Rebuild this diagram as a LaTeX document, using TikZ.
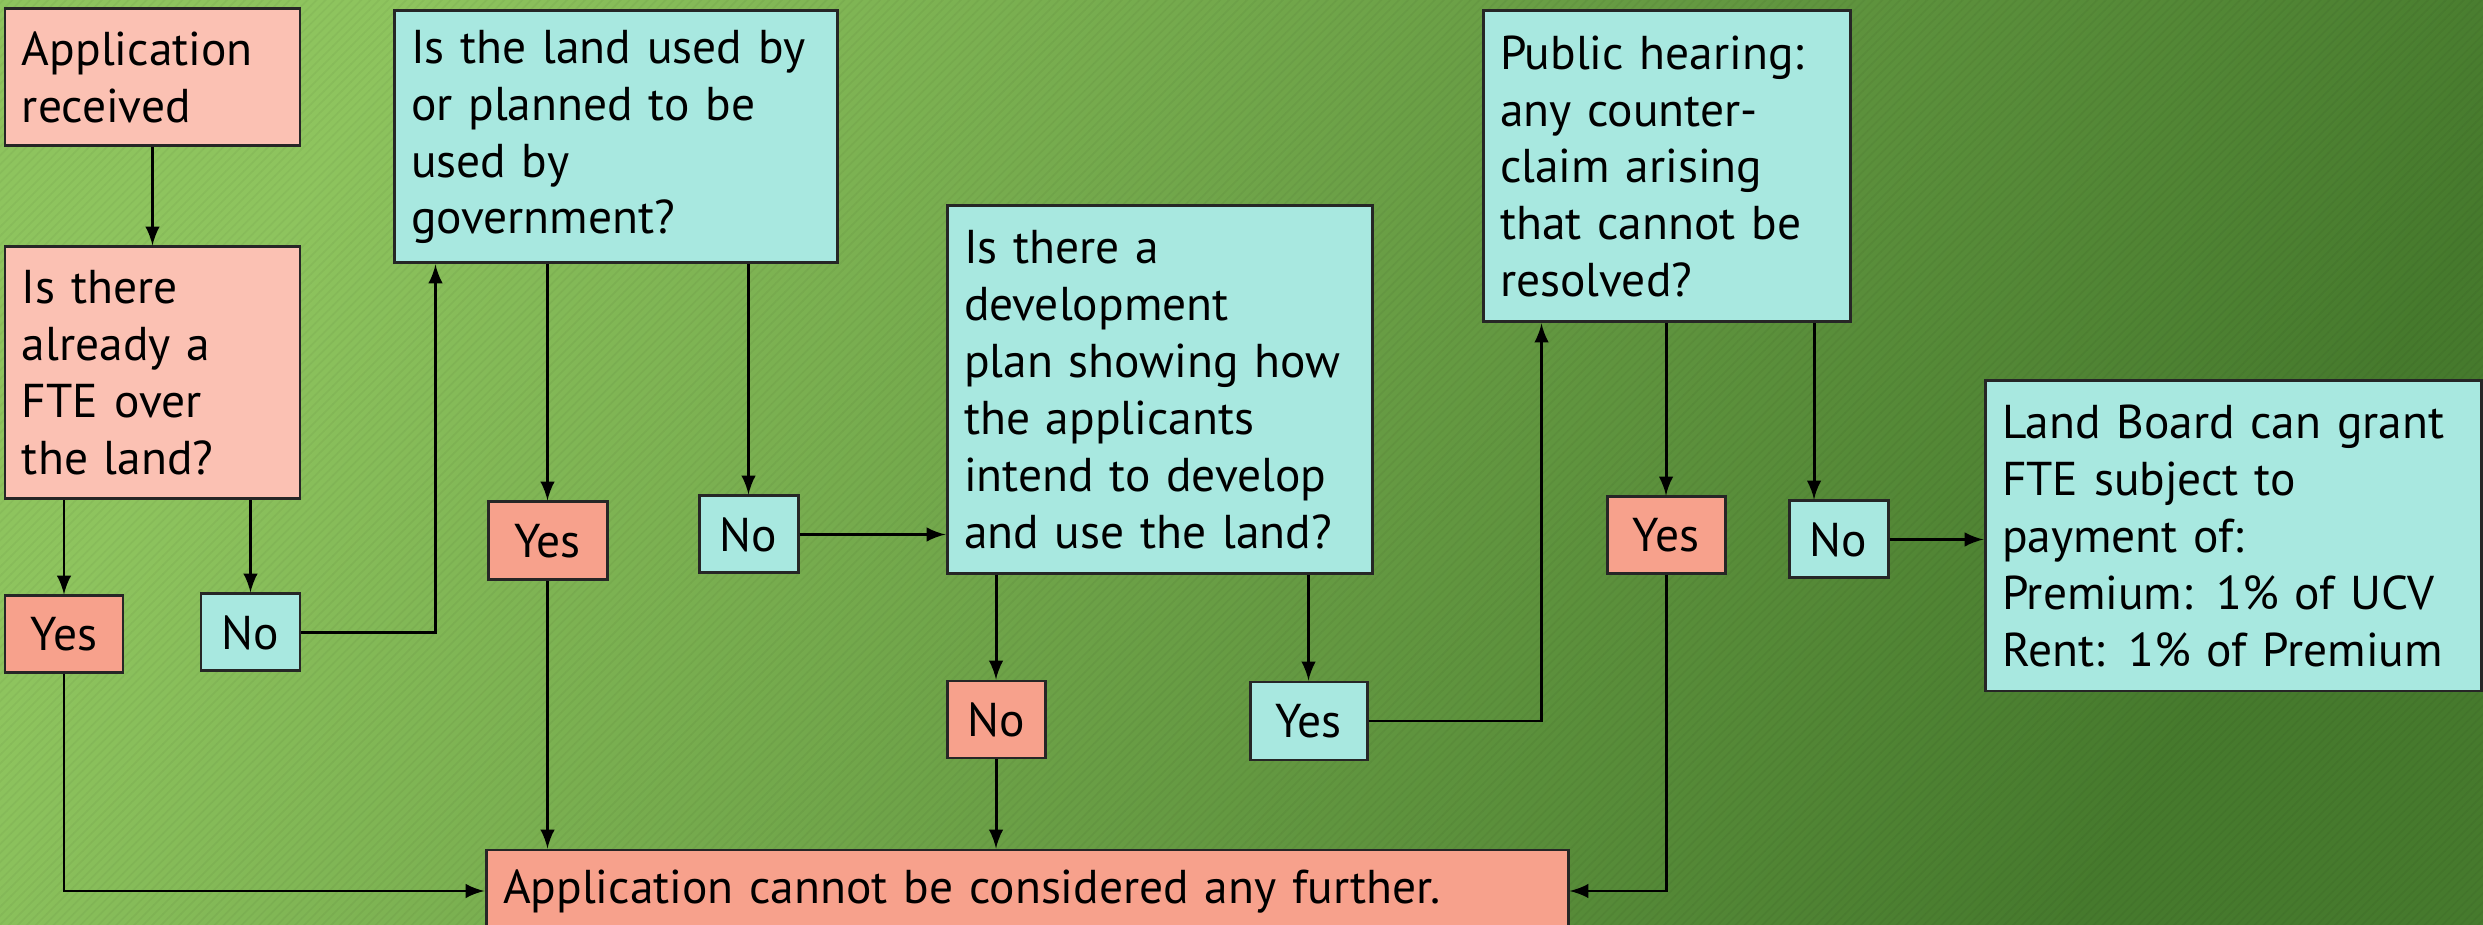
\documentclass[tikz,border=0pt]{standalone}
\usepackage{fontspec}
\setmainfont{PT Sans}
\usetikzlibrary{arrows,patterns.meta}
\hyphenpenalty=10000

\definecolor{aqua}{RGB}{168,232,224}
\definecolor{rose}{RGB}{251,193,179}
\definecolor{salmon}{RGB}{247,161,140}
\definecolor{bglight}{RGB}{142,196,94}
\definecolor{bgdark}{RGB}{70,122,45}

\tikzset{
  box/.style={draw=black!85, line width=0.85pt, inner xsep=0.17cm, inner ysep=0pt,
    align=left, font=\fontsize{13.5pt}{16.2pt}\selectfont},
  qbox/.style={box, fill=aqua},
  pbox/.style={box, fill=rose},
  yesbox/.style={box, fill=salmon, align=center, minimum height=0.77cm},
  nobox/.style={box, fill=aqua, align=center, minimum height=0.77cm},
  nored/.style={box, fill=salmon, align=center, minimum height=0.77cm},
  yescyan/.style={box, fill=aqua, align=center, minimum height=0.77cm},
  arr/.style={->, >=latex, line width=0.85pt},
}

\begin{document}
\begin{tikzpicture}
	\useasboundingbox (0,0) rectangle (24.83,-9.25);
	% background
	\shade[left color=bglight, right color=bgdark, shading angle=60] (0,0) rectangle (24.83,-9.25);
	\fill[pattern={Lines[angle=45,distance=1.8pt,line width=0.5pt]}, pattern color=black, opacity=0.04] (0,0) rectangle (24.83,-9.25);
	
	% first column
	\node[pbox, text width=2.61cm, minimum height=1.37cm] (app) at (1.525,-0.775) {Application\\received};
	\node[pbox, text width=2.61cm, minimum height=2.52cm] (fte) at (1.525,-3.73) {Is there\\already a\\FTE over\\the land?};
	\node[yesbox, text width=0.84cm] (yesA) at (0.64,-6.345) {Yes};
	\node[nobox, text width=0.65cm] (noA) at (2.505,-6.325) {No};
	
	% government use
	\node[qbox, text width=4.09cm, minimum height=2.52cm] (gov) at (6.155,-1.37) {Is the land used by\\or planned to be\\used by\\government?};
	\node[yesbox, text width=0.85cm, minimum height=0.78cm] (yesB) at (5.475,-5.41) {Yes};
	\node[nobox, text width=0.65cm] (noB) at (7.485,-5.345) {No};
	
	% development plan
	\node[qbox, text width=3.91cm, minimum height=3.68cm] (plan) at (11.595,-3.90) {Is there a\\development\\plan showing how\\the applicants\\intend to develop\\and use the land?};
	\node[nored, text width=0.64cm] (noC) at (9.96,-7.195) {No};
	\node[yescyan, text width=0.83cm, minimum height=0.78cm] (yesC) at (13.085,-7.21) {Yes};
	
	% public hearing
	\node[qbox, text width=3.33cm, minimum height=3.11cm] (hear) at (16.665,-1.665) {Public hearing:\\any counter-\\claim arising\\that cannot be\\resolved?};
	\node[yesbox, text width=0.84cm] (yesD) at (16.66,-5.355) {Yes};
	\node[nobox, text width=0.65cm] (noD) at (18.385,-5.395) {No};
	\node[qbox, text width=4.62cm, minimum height=3.10cm] (grant) at (22.33,-5.36) {Land Board can grant\\FTE subject to\\payment of:\\Premium: 1\% of UCV\\Rent: 1\% of Premium};
	
	% refusal
	\node[box, fill=salmon, text width=10.48cm, minimum height=0.82cm] (stop) at (10.27,-8.91) {Application cannot be considered any further.};
	
	% connectors
	\draw[arr] (app) -- (fte);
	\draw[arr] (fte.south -| yesA) -- (yesA);
	\draw[arr] (fte.south -| noA) -- (noA);
	\draw[arr] (noA.east) -| ([xshift=0.43cm]gov.south west);
	\draw[arr] (gov.south -| yesB) -- (yesB);
	\draw[arr] (gov.south -| noB) -- (noB);
	\draw[arr] (noB.east) -- (noB.east -| plan.west);
	\draw[arr] (plan.south -| noC) -- (noC);
	\draw[arr] (plan.south -| yesC) -- (yesC);
	\draw[arr] (yesC.east) -| ([xshift=0.6cm]hear.south west);
	\draw[arr] (hear.south -| yesD) -- (yesD);
	\draw[arr] ([xshift=-0.245cm]hear.south -| noD) -- ([xshift=-0.245cm]noD.north);
	\draw[arr] (noD.east) -- (noD.east -| grant.west);
	\draw[arr] (yesA) |- (stop.west);
	\draw[arr] (yesB) -- (yesB |- stop.north);
	\draw[arr] (noC) -- (noC |- stop.north);
	\draw[arr] (yesD) |- (stop.east);
\end{tikzpicture}
\end{document}
